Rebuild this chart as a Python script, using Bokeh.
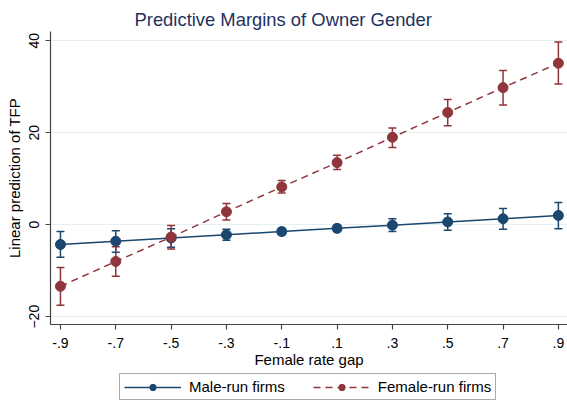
from bokeh.plotting import figure
from bokeh.layouts import column
from bokeh.models import (ColumnDataSource, Whisker, TeeHead, FixedTicker, Range1d,
                          Legend, LegendItem)
from bokeh.embed import file_html
from bokeh.resources import INLINE

# ---- data ----
gap = [-0.9, -0.7, -0.5, -0.3, -0.1, 0.1, 0.3, 0.5, 0.7, 0.9]
tick_labels = ["-.9", "-.7", "-.5", "-.3", "-.1", ".1", ".3", ".5", ".7", ".9"]
y_ticks = [-20, 0, 20, 40]

male = [-4.3, -3.6, -2.9, -2.2, -1.5, -0.8, -0.1, 0.6, 1.3, 2.0]
male_lo = [-7.1, -6.0, -4.9, -3.4, -2.2, -1.5, -1.5, -1.2, -1.0, -0.9]
male_hi = [-1.5, -1.3, -0.9, -1.0, -0.8, -0.1, 1.3, 2.4, 3.5, 4.85]

female = [-13.4, -8.0, -2.7, 2.8, 8.2, 13.5, 19.0, 24.4, 29.8, 35.1]
female_lo = [-17.5, -11.2, -5.3, 1.0, 6.9, 12.0, 16.8, 21.5, 26.0, 30.6]
female_hi = [-9.3, -4.8, -0.2, 4.6, 9.6, 15.1, 21.0, 27.2, 33.5, 39.7]

series_names = ["Male-run firms", "Female-run firms"]

BLUE = "#1a476f"
RED = "#90353b"
FONT = "Liberation Sans"

p = figure(frame_width=517, frame_height=293, output_backend="svg", toolbar_location=None,
           x_range=Range1d(-0.936, 0.933), y_range=Range1d(-21.7, 42.0),
           min_border_left=50, min_border_right=0, min_border_top=31, min_border_bottom=42)
p.outline_line_color = None
p.background_fill_color = "white"
p.border_fill_color = "white"

p.title.text = "Predictive Margins of Owner Gender"
p.title.align = "left"
p.title.offset = 84
p.title.text_font = FONT
p.title.text_font_size = "18.4px"
p.title.text_font_style = "normal"
p.title.text_color = "#1e3260"
p.title.standoff = 3

src_m = ColumnDataSource(dict(x=gap, y=male, lo=male_lo, hi=male_hi))
src_f = ColumnDataSource(dict(x=gap, y=female, lo=female_lo, hi=female_hi))

# grid
p.xgrid.grid_line_color = None
p.ygrid.grid_line_color = "#e6eff2"
p.ygrid.grid_line_width = 1.2

# axes
p.xaxis.ticker = FixedTicker(ticks=gap)
p.xaxis.major_label_overrides = {g: t for g, t in zip(gap, tick_labels)}
p.yaxis.ticker = FixedTicker(ticks=y_ticks)
p.yaxis.major_label_orientation = "vertical"
for ax in (p.xaxis[0], p.yaxis[0]):
    ax.axis_line_color = "#444444"
    ax.axis_line_width = 1.2
    ax.major_tick_line_color = "#444444"
    ax.major_tick_line_width = 1.2
    ax.major_tick_out = 5
    ax.major_tick_in = 0
    ax.minor_tick_line_color = None
    ax.major_label_text_font = FONT
    ax.major_label_text_font_size = "14px"
    ax.major_label_text_color = "black"
    ax.axis_label_text_font = FONT
    ax.axis_label_text_font_size = "15px"
    ax.axis_label_text_font_style = "normal"
    ax.axis_label_text_color = "black"
p.xaxis.axis_label = "Female rate gap"
p.yaxis.axis_label = "Linear prediction of TFP"
p.xaxis.major_label_standoff = 8
p.xaxis.axis_label_standoff = 0
p.yaxis.major_label_standoff = 6
p.yaxis.axis_label_standoff = 4

# error bars
for src, col in ((src_m, BLUE), (src_f, RED)):
    w = Whisker(base="x", upper="hi", lower="lo", source=src,
                line_color=col, line_width=1.5,
                upper_head=TeeHead(size=8, line_color=col, line_width=1.5),
                lower_head=TeeHead(size=8, line_color=col, line_width=1.5))
    p.add_layout(w)

p.line("x", "y", source=src_m, line_color=BLUE, line_width=1.5)
p.scatter("x", "y", source=src_m, size=10, fill_color=BLUE, line_color=BLUE)
p.line("x", "y", source=src_f, line_color=RED, line_width=1.5, line_dash="7 5")
p.scatter("x", "y", source=src_f, size=10, fill_color=RED, line_color=RED)

# ---- legend strip (separate figure below the plot; its ranges keep the
#      series themselves out of view so only the legend shows) ----
lg = figure(width=567, height=36, output_backend="svg", toolbar_location=None,
            x_range=Range1d(10, 11), y_range=Range1d(100, 101),
            x_axis_location=None, y_axis_location=None,
            min_border_left=0, min_border_right=0, min_border_top=0, min_border_bottom=0)
lg.grid.visible = False
lg.outline_line_color = None
lg.background_fill_color = "white"
lg.border_fill_color = "white"
lm = lg.line("x", "y", source=src_m, line_color=BLUE, line_width=1.5)
cm = lg.scatter("x", "y", source=src_m, size=10, fill_color=BLUE, line_color=BLUE)
lf = lg.line("x", "y", source=src_f, line_color=RED, line_width=1.5, line_dash="7 5")
cf = lg.scatter("x", "y", source=src_f, size=10, fill_color=RED, line_color=RED)

# the column aligns this strip's frame with the plot frame (left edge at 50px)
legend = Legend(items=[LegendItem(label=series_names[0], renderers=[lm, cm]),
                       LegendItem(label=series_names[1], renderers=[lf, cf])],
                orientation="horizontal", location=(69, 6))
legend.glyph_width = 57
legend.glyph_height = 16
legend.label_height = 16
legend.spacing = 28
legend.padding = 4
legend.margin = 0
legend.label_text_font = FONT
legend.label_text_font_size = "15px"
legend.label_text_color = "black"
legend.border_line_color = "#555555"
legend.border_line_width = 1.2
legend.background_fill_color = "white"
legend.label_standoff = 8
lg.add_layout(legend, "center")

layout = column(p, lg, spacing=0)
open("out.html", "w").write(file_html(layout, INLINE))
